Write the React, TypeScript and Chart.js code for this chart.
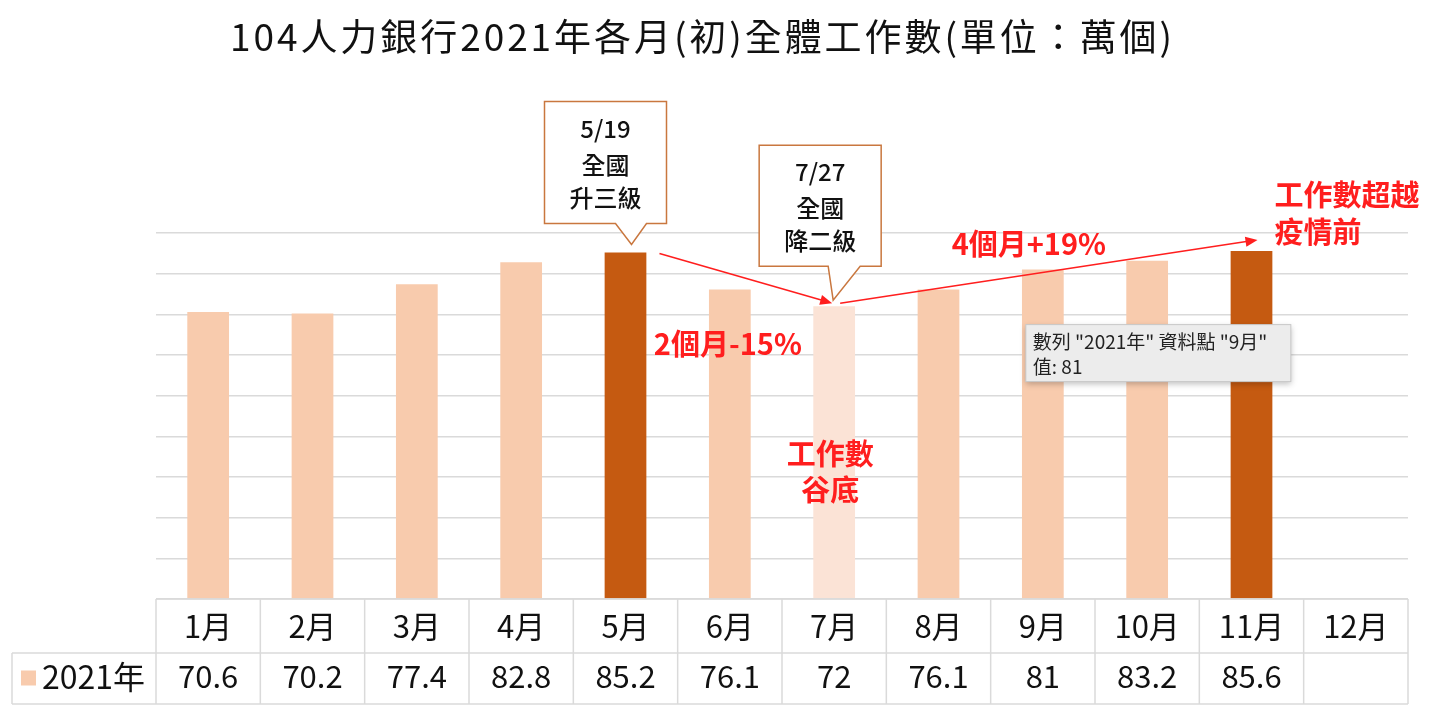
import { useEffect, useRef } from 'react'
import { Chart, registerables } from 'chart.js'

Chart.register(...registerables)

const FONT = '"Noto Sans CJK TC", "Noto Sans", sans-serif'

const TITLE = '104人力銀行2021年各月(初)全體工作數(單位：萬個)'
const MONTHS = ['1月', '2月', '3月', '4月', '5月', '6月', '7月', '8月', '9月', '10月', '11月', '12月']
const SERIES_NAME = '2021年'
const JOBS_2021 = [70.6, 70.2, 77.4, 82.8, 85.2, 76.1, 72, 76.1, 81, 83.2, 85.6, null]
const Y_MAX = 90
const Y_STEP = 10

// which months get the highlight tones
const PEAK_MONTHS = [4, 10]
const TROUGH_MONTH = 6

const LOCKDOWN_NOTE = ['5/19', '全國', '升三級']
const EASING_NOTE = ['7/27', '全國', '降二級']
const DROP_TEXT = '2個月-15%'
const RISE_TEXT = '4個月+19%'
const PEAK_TEXT = ['工作數超越', '疫情前']
const TROUGH_TEXT = ['工作數', '谷底']
const HOVER_MONTH = 8

const LIGHT = '#F8CBAD'
const DARK = '#C55A11'
const PALE = '#FBE3D6'
const RED = '#FF1E1E'
const GRID = '#DADADA'

function drawArrow(ctx: CanvasRenderingContext2D, x1: number, y1: number, x2: number, y2: number) {
  const ang = Math.atan2(y2 - y1, x2 - x1)
  const head = 12
  ctx.save()
  ctx.strokeStyle = RED
  ctx.fillStyle = RED
  ctx.lineWidth = 1.6
  ctx.beginPath()
  ctx.moveTo(x1, y1)
  ctx.lineTo(x2 - Math.cos(ang) * head * 0.8, y2 - Math.sin(ang) * head * 0.8)
  ctx.stroke()
  ctx.beginPath()
  ctx.moveTo(x2, y2)
  ctx.lineTo(x2 - head * Math.cos(ang) + 5 * Math.sin(ang), y2 - head * Math.sin(ang) - 5 * Math.cos(ang))
  ctx.lineTo(x2 - head * Math.cos(ang) - 5 * Math.sin(ang), y2 - head * Math.sin(ang) + 5 * Math.cos(ang))
  ctx.closePath()
  ctx.fill()
  ctx.restore()
}

function drawCallout(
  ctx: CanvasRenderingContext2D,
  lines: string[],
  left: number,
  top: number,
  w: number,
  h: number,
  baseL: number,
  baseR: number,
  tipX: number,
  tipY: number
) {
  ctx.save()
  ctx.beginPath()
  ctx.moveTo(left, top)
  ctx.lineTo(left + w, top)
  ctx.lineTo(left + w, top + h)
  ctx.lineTo(baseR, top + h)
  ctx.lineTo(tipX, tipY)
  ctx.lineTo(baseL, top + h)
  ctx.lineTo(left, top + h)
  ctx.closePath()
  ctx.fillStyle = '#fff'
  ctx.fill()
  ctx.strokeStyle = '#C9773F'
  ctx.lineWidth = 1.5
  ctx.stroke()
  ctx.fillStyle = '#111'
  ctx.font = `500 24px ${FONT}`
  ctx.textAlign = 'center'
  ctx.textBaseline = 'middle'
  const offs = [27, 63, 96]
  lines.forEach((t, i) => ctx.fillText(t, left + w / 2, top + offs[i]))
  ctx.restore()
}

const overlay = {
  id: 'overlay',
  afterDatasetsDraw(chart: Chart) {
    const ctx = chart.ctx
    const xs = chart.scales.x
    const ys = chart.scales.y
    const cx = (i: number) => xs.getPixelForValue(i)
    const top = (i: number) => ys.getPixelForValue(JOBS_2021[i] as number)

    // title
    ctx.save()
    ctx.fillStyle = '#111'
    ctx.font = `37px ${FONT}`
    ctx.textBaseline = 'middle'
    ctx.textAlign = 'left'
    ;(ctx as any).letterSpacing = '0px'
    const w = ctx.measureText(TITLE).width
    const n = [...TITLE].length
    ;(ctx as any).letterSpacing = `${(945 - w) / n}px`
    ctx.fillText(TITLE, 230, 37)
    ;(ctx as any).letterSpacing = '0px'
    ctx.restore()

    // data table under the plot
    const colW = xs.width / MONTHS.length
    const t0 = chart.chartArea.bottom
    const t1 = t0 + 54
    const t2 = t1 + 51
    const legendLeft = 12
    ctx.save()
    ctx.strokeStyle = GRID
    ctx.lineWidth = 1.5
    ctx.beginPath()
    ctx.moveTo(xs.left, t0)
    ctx.lineTo(xs.right, t0)
    ctx.moveTo(legendLeft, t1)
    ctx.lineTo(xs.right, t1)
    ctx.moveTo(legendLeft, t2)
    ctx.lineTo(xs.right, t2)
    for (let k = 0; k <= MONTHS.length; k++) {
      const x = xs.left + k * colW
      ctx.moveTo(x, t0)
      ctx.lineTo(x, t2)
    }
    ctx.moveTo(legendLeft, t1)
    ctx.lineTo(legendLeft, t2)
    ctx.stroke()

    ctx.fillStyle = '#111'
    ctx.font = `31px ${FONT}`
    ctx.textAlign = 'center'
    ctx.textBaseline = 'middle'
    MONTHS.forEach((m, i) => {
      ctx.fillText(m, cx(i), (t0 + t1) / 2)
      const v = JOBS_2021[i]
      if (v !== null) ctx.fillText(String(v), cx(i), (t1 + t2) / 2 - 2)
    })
    ctx.fillStyle = LIGHT
    ctx.fillRect(21, (t1 + t2) / 2 - 8, 15, 15)
    ctx.fillStyle = '#111'
    ctx.textAlign = 'left'
    ctx.font = `32px ${FONT}`
    ctx.fillText(SERIES_NAME, 42, (t1 + t2) / 2 - 2)
    ctx.restore()

    // callouts
    const b1 = cx(4), h1 = top(4)
    drawCallout(ctx, LOCKDOWN_NOTE, b1 - 81, h1 - 151, 122, 122, b1 - 10, b1 + 21, b1 + 6, h1 - 8)
    const b2 = cx(TROUGH_MONTH), h2 = top(TROUGH_MONTH)
    drawCallout(ctx, EASING_NOTE, b2 - 75, h2 - 161, 122, 121, b2 - 6, b2 + 26, b2 - 1, h2 - 6)

    // trend arrows
    drawArrow(ctx, b1 + 34, h1 + 1, b2 - 2, h2 - 3)
    drawArrow(ctx, b2 + 6, h2 - 3, cx(10) + 6, top(10) - 11)

    // red notes
    ctx.save()
    ctx.fillStyle = RED
    ctx.font = `bold 29px ${FONT}`
    ctx.textBaseline = 'middle'
    ctx.textAlign = 'center'
    ctx.fillText(DROP_TEXT, cx(5) - 2, top(5) + 54)
    ctx.fillText(RISE_TEXT, cx(8) - 14, top(8) - 26)
    ctx.fillText(TROUGH_TEXT[0], b2 - 4, ys.getPixelForValue(35.6))
    ctx.fillText(TROUGH_TEXT[1], b2 - 4, ys.getPixelForValue(26.7))
    ctx.textAlign = 'left'
    ctx.fillText(PEAK_TEXT[0], cx(10) + 23, top(10) - 56)
    ctx.fillText(PEAK_TEXT[1], cx(10) + 23, top(10) - 19)
    ctx.restore()

    // hover tip on September
    const tx = cx(HOVER_MONTH) - 17
    const ty = top(HOVER_MONTH) + 55
    ctx.save()
    ctx.shadowColor = 'rgba(0,0,0,0.25)'
    ctx.shadowBlur = 6
    ctx.shadowOffsetY = 2
    ctx.fillStyle = '#ECECEC'
    ctx.fillRect(tx, ty, 265, 57)
    ctx.shadowColor = 'transparent'
    ctx.strokeStyle = '#C8C8C8'
    ctx.lineWidth = 1
    ctx.strokeRect(tx, ty, 265, 57)
    ctx.fillStyle = '#222'
    ctx.font = `19px ${FONT}`
    ctx.textAlign = 'left'
    ctx.textBaseline = 'middle'
    ctx.fillText(`數列 "${SERIES_NAME}" 資料點 "${MONTHS[HOVER_MONTH]}"`, tx + 7, ty + 17)
    ctx.fillText(`值: ${JOBS_2021[HOVER_MONTH]}`, tx + 7, ty + 42)
    ctx.restore()
  },
}

export default function App() {
  const canvasRef = useRef<HTMLCanvasElement>(null)

  useEffect(() => {
    const ctx = canvasRef.current?.getContext('2d')
    if (!ctx) return

    const colors = JOBS_2021.map((_, i) =>
      PEAK_MONTHS.includes(i) ? DARK : i === TROUGH_MONTH ? PALE : LIGHT
    )

    const chart = new Chart(ctx, {
      type: 'bar',
      data: {
        labels: MONTHS,
        datasets: [
          {
            label: SERIES_NAME,
            data: JOBS_2021,
            backgroundColor: colors,
            borderWidth: 0,
            barPercentage: 0.4,
            categoryPercentage: 1,
          },
        ],
      },
      options: {
        responsive: true,
        maintainAspectRatio: false,
        animation: false,
        layout: { padding: { left: 156, right: 36, top: 233, bottom: 117 } },
        plugins: {
          legend: { display: false },
          tooltip: { enabled: false },
        },
        scales: {
          x: { display: false },
          y: {
            min: 0,
            max: Y_MAX,
            ticks: { display: false, stepSize: Y_STEP },
            grid: { color: GRID, lineWidth: 1.5, drawTicks: false },
            border: { display: false },
            afterFit: (s: any) => {
              s.width = 0
            },
          },
        },
      },
      plugins: [overlay],
    })

    return () => {
      chart.destroy()
    }
  }, [])

  return (
    <div style={{ position: 'absolute', left: 0, top: 0, width: 1444, height: 716, background: '#fff' }}>
      <canvas ref={canvasRef} />
    </div>
  )
}
